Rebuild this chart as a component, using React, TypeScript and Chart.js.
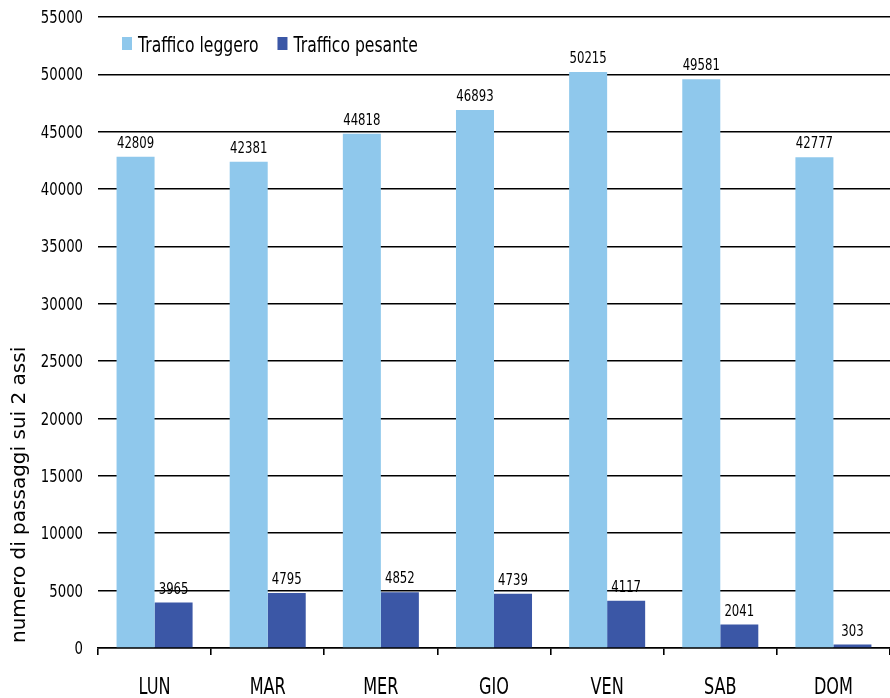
import React, { useEffect, useRef } from "react";
import { Chart, registerables } from "chart.js";

Chart.register(...registerables);

const categories = ["LUN", "MAR", "MER", "GIO", "VEN", "SAB", "DOM"];
const leggero = [42809, 42381, 44818, 46893, 50215, 49581, 42777];
const pesante = [3965, 4795, 4852, 4739, 4117, 2041, 303];
const seriesNames = ["Traffico leggero", "Traffico pesante"];
const colors = ["#8FC8EC", "#3B57A6"];
const yTitle = "numero di passaggi sui 2 assi";
const yTicks = { min: 0, max: 55000, step: 5000 };

const FONT = "'DejaVu Sans', Verdana, sans-serif";
const TEXT = "#000";

// draws horizontally condensed text (reference uses a narrow, tall face)
function narrowText(ctx: any, text: string, x: number, y: number, size: number, sx: number, align: "left" | "right" | "center") {
  ctx.save();
  ctx.font = `${size}px ${FONT}`;
  ctx.fillStyle = TEXT;
  ctx.textBaseline = "alphabetic";
  ctx.textAlign = align;
  ctx.translate(x, y);
  ctx.scale(sx, 1);
  ctx.fillText(text, 0, 0);
  const w = ctx.measureText(text).width * sx;
  ctx.restore();
  return w;
}

const textPlugin = {
  id: "textPlugin",
  afterDraw(chart: any) {
    const ctx = chart.ctx;
    const area = chart.chartArea;
    const xs = chart.scales.x;
    const ys = chart.scales.y;

    // y tick labels
    ys.ticks.forEach((t: any) => {
      const py = ys.getPixelForValue(t.value);
      narrowText(ctx, String(t.value), 83, py + 6, 17, 0.78, "right");
    });

    // x category labels
    categories.forEach((c, i) => {
      narrowText(ctx, c, xs.getPixelForValue(i), 694, 23, 0.7, "center");
    });

    // value labels above bars
    chart.data.datasets.forEach((ds: any, i: number) => {
      const meta = chart.getDatasetMeta(i);
      meta.data.forEach((bar: any, j: number) => {
        narrowText(ctx, String(ds.data[j]), bar.x, bar.y - 9, 16.5, 0.71, "center");
      });
    });

    // legend
    let lx = area.left + 24;
    seriesNames.forEach((name, i) => {
      ctx.save();
      ctx.fillStyle = colors[i];
      ctx.fillRect(lx, 37, 10, 13);
      ctx.restore();
      const w = narrowText(ctx, name, lx + 16, 52, 22, 0.71, "left");
      lx += 16 + w + 19;
    });

    // y axis title
    ctx.save();
    ctx.font = `20px ${FONT}`;
    ctx.fillStyle = TEXT;
    ctx.textAlign = "left";
    ctx.textBaseline = "middle";
    ctx.translate(20, 643);
    ctx.rotate(-Math.PI / 2);
    ctx.fillText(yTitle, 0, 0);
    ctx.restore();
  },
};

export default function App() {
  const ref = useRef<HTMLCanvasElement>(null);
  useEffect(() => {
    const chart = new Chart(ref.current!, {
      type: "bar",
      data: {
        labels: categories,
        datasets: [
          { label: seriesNames[0], data: leggero, backgroundColor: colors[0], barPercentage: 1, categoryPercentage: 0.672 },
          { label: seriesNames[1], data: pesante, backgroundColor: colors[1], barPercentage: 1, categoryPercentage: 0.672 },
        ],
      },
      options: {
        animation: false,
        responsive: false,
        maintainAspectRatio: false,
        layout: { padding: { top: 17, right: 0, left: 0, bottom: 0 } },
        plugins: { legend: { display: false }, tooltip: { enabled: false } },
        scales: {
          x: {
            offset: true,
            grid: { offset: true, drawOnChartArea: false, drawTicks: true, tickLength: 7, color: "#000", lineWidth: 1.6 },
            border: { display: true, color: "#000", width: 1.6 },
            ticks: { display: false },
            afterFit(scale: any) { scale.height = 50; },
          },
          y: {
            min: yTicks.min,
            max: yTicks.max,
            ticks: { stepSize: yTicks.step, display: false },
            grid: { color: "#000", lineWidth: 1.6, drawTicks: false },
            border: { display: false },
            afterFit(scale: any) { scale.width = 98; },
          },
        },
      },
      plugins: [textPlugin],
    });
    return () => chart.destroy();
  }, []);
  return (
    <div style={{ position: "fixed", left: 0, top: 0, width: 890, height: 698, background: "#fff" }}>
      <canvas ref={ref} width={890} height={698} />
    </div>
  );
}
